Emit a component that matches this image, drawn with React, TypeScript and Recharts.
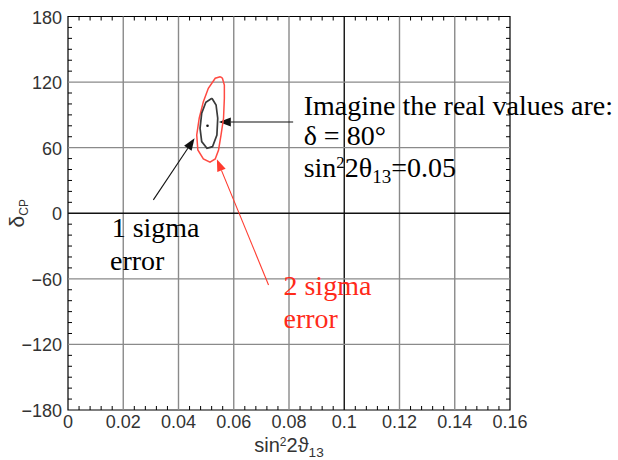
import { ScatterChart, Scatter, XAxis, YAxis, ReferenceLine, ReferenceDot, ReferenceArea } from "recharts";

// axis ticks
const X_TICKS = [0, 0.02, 0.04, 0.06, 0.08, 0.1, 0.12, 0.14, 0.16];
const Y_TICKS = [-180, -120, -60, 0, 60, 120, 180];
const X_MINOR_PER_MAJOR = 5;
const Y_MINOR_PER_MAJOR = 6;

// contours (sin^2 2theta13, deltaCP)
const SIGMA1_CONTOUR = [
  { x: 0.0521, y: 105.2 },
  { x: 0.0536, y: 99.1 },
  { x: 0.0542, y: 86.9 },
  { x: 0.0539, y: 71.6 },
  { x: 0.0523, y: 60.9 },
  { x: 0.0503, y: 59.5 },
  { x: 0.0484, y: 65.5 },
  { x: 0.0478, y: 77.7 },
  { x: 0.0484, y: 91.5 },
  { x: 0.0499, y: 101.5 },
  { x: 0.0521, y: 105.2 },
];

const SIGMA2_CONTOUR = [
  { x: 0.0551, y: 124.9 },
  { x: 0.0533, y: 123.5 },
  { x: 0.0508, y: 114.3 },
  { x: 0.049, y: 102.1 },
  { x: 0.0475, y: 86.9 },
  { x: 0.0466, y: 71.6 },
  { x: 0.047, y: 57.9 },
  { x: 0.049, y: 49.7 },
  { x: 0.0514, y: 46.7 },
  { x: 0.0533, y: 49.7 },
  { x: 0.0545, y: 57.9 },
  { x: 0.0554, y: 71.6 },
  { x: 0.0563, y: 86.9 },
  { x: 0.0566, y: 105.2 },
  { x: 0.0566, y: 117.3 },
  { x: 0.0559, y: 123.5 },
  { x: 0.0551, y: 124.9 },
];

const TRUE_POINT = [{ x: 0.0505, y: 80.1 }];

// annotation arrows: tail -> tip, in data units
const ARROWS = [
  { from: { x: 0.0815, y: 83.5 }, to: { x: 0.0546, y: 83.5 }, color: "#111" },
  { from: { x: 0.0309, y: 12.2 }, to: { x: 0.0458, y: 68.6 }, color: "#111" },
  { from: { x: 0.0726, y: -65.6 }, to: { x: 0.0539, y: 49.4 }, color: "#ff3b2f" },
];

// annotation text, left/baseline anchored in data units
const NOTES = [
  { x: 0.0853, y: 89.9, text: "Imagine the real values are:", color: "#000" },
  { x: 0.0853, y: 62.5, text: "δ = 80°", color: "#000" },
  { x: 0.0853, y: 33.5, text: "sin^{2}2θ_{13}=0.05", color: "#000" },
  { x: 0.0158, y: -21.4, text: "1 sigma", color: "#000" },
  { x: 0.0152, y: -51.9, text: "error", color: "#000" },
  { x: 0.078, y: -74.7, text: "2 sigma", color: "#ff2a1a" },
  { x: 0.078, y: -105.2, text: "error", color: "#ff2a1a" },
];

const SERIF = "'Liberation Serif', 'Times New Roman', serif";
const SANS = "'Liberation Sans', Arial, Helvetica, sans-serif";

const minorBetween = (major: number[], n: number) =>
  major
    .slice(0, -1)
    .flatMap((v, i) => Array.from({ length: n - 1 }, (_, k) => +(v + ((major[i + 1] - v) * (k + 1)) / n).toFixed(5)));

const X_MINOR = minorBetween(X_TICKS, X_MINOR_PER_MAJOR);
const Y_MINOR = minorBetween(Y_TICKS, Y_MINOR_PER_MAJOR);

const fmtX = (v: number) => String(+v.toFixed(3));
const fmtY = (v: number) => (v < 0 ? "\u2212" + Math.abs(v) : String(v));

const TICK_LEN = 4;

function RichText({ x, y, src, fontSize, fill, fontFamily, ...rest }: any) {
  const parts: { t: string; s: number }[] = [];
  const re = /(\^|_)\{([^}]*)\}/g;
  let last = 0;
  let m;
  while ((m = re.exec(src))) {
    if (m.index > last) parts.push({ t: src.slice(last, m.index), s: 0 });
    parts.push({ t: m[2], s: m[1] === "^" ? -1 : 1 });
    last = re.lastIndex;
  }
  if (last < src.length) parts.push({ t: src.slice(last), s: 0 });
  let cur = 0;
  return (
    <text x={x} y={y} fill={fill} fontFamily={fontFamily} fontSize={fontSize} {...rest}>
      {parts.map((p, i) => {
        const target = p.s === -1 ? -0.32 * fontSize : p.s === 1 ? 0.24 * fontSize : 0;
        const dy = target - cur;
        cur = target;
        return (
          <tspan key={i} dy={dy} fontSize={p.s === -1 ? fontSize * 0.6 : p.s === 1 ? fontSize * 0.68 : fontSize}>
            {p.t}
          </tspan>
        );
      })}
    </text>
  );
}

function BottomTick({ x, y, payload }: any) {
  return (
    <text x={x} y={y + 18} textAnchor="middle" fontFamily={SANS} fontSize={18} fill="#333">
      {fmtX(payload.value)}
    </text>
  );
}

function LeftTick({ x, y, payload }: any) {
  return (
    <text x={x - 6} y={y + 7} textAnchor="end" fontFamily={SANS} fontSize={18} fill="#333">
      {fmtY(payload.value)}
    </text>
  );
}

// minor ticks: short inward stubs at both ends of a reference line
const VerticalStubs = (p: any) => {
  const top = Math.min(p.y1, p.y2);
  const bottom = Math.max(p.y1, p.y2);
  return (
    <g>
      <line x1={p.x1} y1={top} x2={p.x1} y2={top + TICK_LEN} stroke="#000" strokeWidth={1} />
      <line x1={p.x1} y1={bottom} x2={p.x1} y2={bottom - TICK_LEN} stroke="#000" strokeWidth={1} />
    </g>
  );
};

const HorizontalStubs = (p: any) => {
  const left = Math.min(p.x1, p.x2);
  const right = Math.max(p.x1, p.x2);
  return (
    <g>
      <line x1={left} y1={p.y1} x2={left + TICK_LEN} y2={p.y1} stroke="#000" strokeWidth={1} />
      <line x1={right} y1={p.y1} x2={right - TICK_LEN} y2={p.y1} stroke="#000" strokeWidth={1} />
    </g>
  );
};

const NoDot = () => <g />;

function arrowShape(color: string) {
  return (p: any) => {
    const { x1, y1, x2, y2 } = p;
    const a = Math.atan2(y2 - y1, x2 - x1);
    const len = 12;
    const half = 4.5;
    const bx = x2 - len * Math.cos(a);
    const by = y2 - len * Math.sin(a);
    const px = -Math.sin(a) * half;
    const py = Math.cos(a) * half;
    return (
      <g>
        <line x1={x1} y1={y1} x2={bx} y2={by} stroke={color} strokeWidth={1.1} />
        <polygon points={`${x2},${y2} ${bx + px},${by + py} ${bx - px},${by - py}`} fill={color} />
      </g>
    );
  };
}

function noteShape(note: any) {
  return (p: any) => (
    <RichText x={p.cx} y={p.cy} src={note.text} fontSize={28} fill={note.color} fontFamily={SERIF} />
  );
}

function XTitle({ viewBox }: any) {
  const cx = viewBox.x + viewBox.width / 2;
  return (
    <RichText
      x={cx}
      y={viewBox.y + 42}
      src="sin^{2}2ϑ_{13}"
      fontSize={20}
      fill="#333"
      fontFamily={SANS}
      textAnchor="middle"
    />
  );
}

function YTitle({ viewBox }: any) {
  const cx = viewBox.x + 16;
  const cy = viewBox.y + viewBox.height / 2;
  return (
    <text
      x={cx}
      y={cy}
      transform={`rotate(-90 ${cx} ${cy})`}
      textAnchor="middle"
      fontFamily={SANS}
      fontSize={21}
      fill="#333"
    >
      δ
      <tspan dy={4} fontSize={12}>
        CP
      </tspan>
    </text>
  );
}

export default function App() {
  return (
    <div style={{ position: "absolute", left: 0, top: 0, background: "#fff" }}>
      <ScatterChart width={618} height={460} margin={{ top: 16.5, right: 108, bottom: 0, left: 8 }}>
        <XAxis
          type="number"
          dataKey="x"
          domain={[0, 0.16]}
          ticks={X_TICKS}
          interval={0}
          height={50}
          tickSize={0}
          tickMargin={0}
          tickLine={false}
          axisLine={false}
          tick={BottomTick}
          label={{ content: XTitle }}
        />
        <YAxis
          type="number"
          dataKey="y"
          domain={[-180, 180]}
          ticks={Y_TICKS}
          interval={0}
          width={60}
          tickSize={0}
          tickMargin={0}
          tickLine={false}
          axisLine={false}
          tick={LeftTick}
          label={{ content: YTitle }}
        />

        {/* grid at the major ticks, zero lines darker */}
        {X_TICKS.slice(1, -1).map((v) => (
          <ReferenceLine
            key={`gx${v}`}
            x={v}
            stroke={v === 0.1 ? "#111" : "#8a8a8a"}
            strokeWidth={1.4}
          />
        ))}
        {Y_TICKS.slice(1, -1).map((v) => (
          <ReferenceLine
            key={`gy${v}`}
            y={v}
            stroke={v === 0 ? "#111" : "#8a8a8a"}
            strokeWidth={1.4}
          />
        ))}

        {/* minor ticks on all four sides */}
        {X_MINOR.map((v) => (
          <ReferenceLine key={`mx${v}`} x={v} shape={VerticalStubs} />
        ))}
        {Y_MINOR.map((v) => (
          <ReferenceLine key={`my${v}`} y={v} shape={HorizontalStubs} />
        ))}

        {/* frame */}
        <ReferenceArea x1={0} x2={0.16} y1={-180} y2={180} fill="none" fillOpacity={0} stroke="#000" strokeWidth={1.2} />

        <Scatter
          data={SIGMA2_CONTOUR}
          line={{ stroke: "#ff4a42", strokeWidth: 1.5 }}
          shape={NoDot}
          isAnimationActive={false}
        />
        <Scatter
          data={SIGMA1_CONTOUR}
          line={{ stroke: "#3a3a3a", strokeWidth: 1.7 }}
          shape={NoDot}
          isAnimationActive={false}
        />
        <Scatter
          data={TRUE_POINT}
          shape={(p: any) => <circle cx={p.cx} cy={p.cy} r={1.3} fill="#111" />}
          isAnimationActive={false}
        />

        {ARROWS.map((a, i) => (
          <ReferenceLine key={`ar${i}`} segment={[a.from, a.to]} shape={arrowShape(a.color)} />
        ))}

        {NOTES.map((n, i) => (
          <ReferenceDot key={`nt${i}`} x={n.x} y={n.y} r={0} shape={noteShape(n)} />
        ))}
      </ScatterChart>
    </div>
  );
}
